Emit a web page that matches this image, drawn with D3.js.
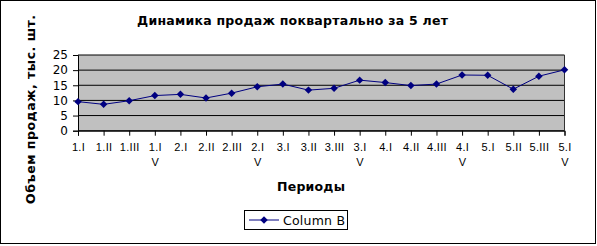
<!DOCTYPE html>
<html>
<head>
<meta charset="utf-8">
<script src="https://cdn.jsdelivr.net/npm/d3@7"></script>
<style>
  body { margin: 0; background: #fff; }
  svg { display: block; font-family: "DejaVu Sans", sans-serif; }
</style>
</head>
<body>
<svg id="chart" width="597" height="246"></svg>
<script>
// data
const categories = ["1.I", "1.II", "1.III", "1.IV", "2.I", "2.II", "2.III", "2.IV",
  "3.I", "3.II", "3.III", "3.IV", "4.I", "4.II", "4.III", "4.IV",
  "5.I", "5.II", "5.III", "5.IV"];
const sales = [9.6, 8.7, 9.9, 11.6, 12.0, 10.8, 12.4, 14.5,
  15.4, 13.4, 14.0, 16.7, 15.9, 14.9, 15.4, 18.4,
  18.3, 13.7, 18.0, 20.1];
const yTicks = [0, 5, 10, 15, 20, 25];
const seriesName = "Column B";
const chartTitle = "Динамика продаж поквартально за 5 лет";
const xTitle = "Периоды";
const yTitle = "Объем продаж, тыс. шт.";

const data = categories.map((c, i) => ({ cat: c, value: sales[i] }));

// plot area
const plot = { left: 78, right: 564.5, top: 55, bottom: 130.7 };

const svg = d3.select("#chart");

// outer border
svg.append("rect")
  .attr("x", 0.5).attr("y", 0.5)
  .attr("width", 595).attr("height", 243)
  .attr("fill", "white")
  .attr("stroke", "black");

// scales
const x = d3.scalePoint()
  .domain(categories)
  .range([plot.left, plot.right]);

const y = d3.scaleLinear()
  .domain([0, 25])
  .range([plot.bottom, plot.top]);

// grey background
svg.append("rect")
  .attr("x", plot.left).attr("y", plot.top)
  .attr("width", plot.right - plot.left)
  .attr("height", plot.bottom - plot.top)
  .attr("fill", "#c0c0c0");

// gridlines
svg.append("g")
  .selectAll("line")
  .data(yTicks)
  .join("line")
  .attr("x1", plot.left).attr("x2", plot.right)
  .attr("y1", d => y(d)).attr("y2", d => y(d))
  .attr("stroke", "black");

// right border of plot area
svg.append("line")
  .attr("x1", plot.right).attr("x2", plot.right)
  .attr("y1", plot.top).attr("y2", plot.bottom)
  .attr("stroke", "#333");

// y axis
const yAxis = svg.append("g")
  .attr("transform", "translate(" + plot.left + ",0)")
  .call(d3.axisLeft(y).tickValues(yTicks).tickSize(5).tickPadding(5));
yAxis.select(".domain").attr("stroke", "black");
yAxis.selectAll(".tick line").attr("stroke", "black");
yAxis.selectAll("text")
  .attr("font-size", 12)
  .attr("font-family", "DejaVu Sans")
  .attr("fill", "black");

// x axis
const xAxis = svg.append("g")
  .attr("transform", "translate(0," + plot.bottom + ")")
  .call(d3.axisBottom(x).tickSize(5).tickPadding(4));
xAxis.select(".domain").attr("stroke", "black");
xAxis.selectAll(".tick line").attr("stroke", "black");
xAxis.selectAll("text").remove();

// tick labels, "x.IV" wraps as "x.I" / "V" like the original
xAxis.selectAll(".tick")
  .append("text")
  .attr("fill", "black")
  .attr("font-size", 11)
  .attr("letter-spacing", 0.3)
  .attr("text-anchor", "middle")
  .attr("y", 20)
  .each(function (d) {
    const lines = d.endsWith("IV") ? [d.slice(0, -1), "V"] : [d];
    d3.select(this).selectAll("tspan")
      .data(lines)
      .join("tspan")
      .attr("x", 0)
      .attr("dy", (l, i) => i === 0 ? 0 : 15)
      .text(l => l);
  });

// series line
const line = d3.line()
  .x(d => x(d.cat))
  .y(d => y(d.value));

svg.append("path")
  .datum(data)
  .attr("d", line)
  .attr("fill", "none")
  .attr("stroke", "#000080")
  .attr("stroke-width", 1);

const diamond = d3.symbol().type(d3.symbolSquare).size(28);

svg.append("g")
  .selectAll("path")
  .data(data)
  .join("path")
  .attr("d", diamond)
  .attr("transform", d => "translate(" + x(d.cat) + "," + y(d.value) + ") rotate(45)")
  .attr("fill", "#000080");

// titles
svg.append("text")
  .attr("x", 292.5).attr("y", 25)
  .attr("text-anchor", "middle")
  .attr("font-size", 12.5)
  .attr("font-weight", "bold")
  .attr("textLength", 311)
  .attr("lengthAdjust", "spacing")
  .text(chartTitle);

svg.append("text")
  .attr("x", 311).attr("y", 191)
  .attr("text-anchor", "middle")
  .attr("font-size", 12.5)
  .attr("font-weight", "bold")
  .attr("textLength", 68)
  .attr("lengthAdjust", "spacing")
  .text(xTitle);

svg.append("text")
  .attr("transform", "translate(35,109.5) rotate(-90)")
  .attr("text-anchor", "middle")
  .attr("font-size", 12.5)
  .attr("font-weight", "bold")
  .attr("textLength", 189)
  .attr("lengthAdjust", "spacing")
  .text(yTitle);

// legend
const legend = svg.append("g");
legend.append("rect")
  .attr("x", 244.5).attr("y", 210.5)
  .attr("width", 103).attr("height", 19)
  .attr("fill", "white")
  .attr("stroke", "black");
legend.append("line")
  .attr("x1", 249).attr("x2", 279)
  .attr("y1", 220).attr("y2", 220)
  .attr("stroke", "#000080");
legend.append("path")
  .attr("d", diamond)
  .attr("transform", "translate(264,220) rotate(45)")
  .attr("fill", "#000080");
legend.append("text")
  .attr("x", 283).attr("y", 224.5)
  .attr("font-size", 12.5)
  .attr("textLength", 62)
  .attr("lengthAdjust", "spacing")
  .text(seriesName);
</script>
</body>
</html>
